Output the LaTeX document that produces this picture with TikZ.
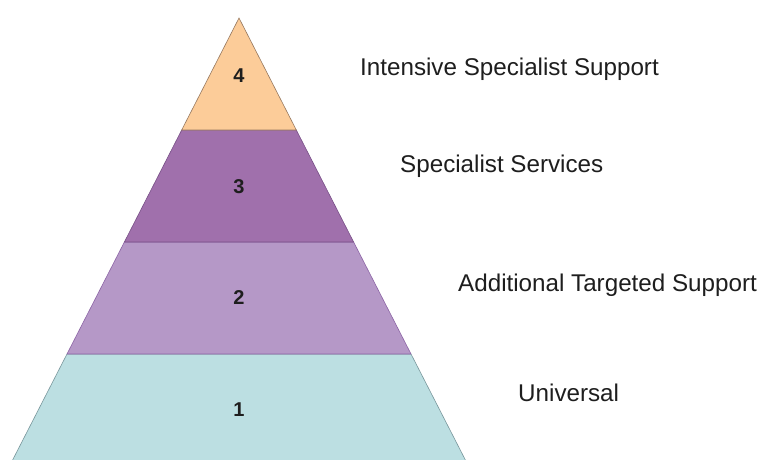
\documentclass[tikz,border=0pt]{standalone}
\usepackage{fontspec}
\setmainfont{Liberation Sans}
\definecolor{tierA}{RGB}{188,223,226}
\definecolor{tierAline}{RGB}{120,150,155}
\definecolor{tierB}{RGB}{181,152,199}
\definecolor{tierBline}{RGB}{140,100,165}
\definecolor{tierC}{RGB}{160,112,172}
\definecolor{tierCline}{RGB}{120,80,135}
\definecolor{tierD}{RGB}{252,204,153}
\definecolor{tierDline}{RGB}{150,120,95}
\definecolor{txt}{RGB}{30,30,30}
\tikzset{
  tier/.style={line width=0.6pt, line join=miter},
  num/.style={font=\fontsize{20}{20}\selectfont\bfseries, text=txt, inner sep=0pt},
  lbl/.style={font=\fontsize{24.2}{24.2}\selectfont, text=txt, anchor=west, inner sep=0pt}
}
\begin{document}
\begin{tikzpicture}[x=1pt,y=-1pt]
\useasboundingbox (0,0) rectangle (761,459);
\fill[white] (0,0) rectangle (761,459);
\begin{scope}
\clip (0,0) rectangle (761,459);
% tier 1
\filldraw[tier, fill=tierA, draw=tierAline] (67.0,354) -- (411.0,354) -- (470.0,469) -- (8.0,469) -- cycle;
% tier 2
\filldraw[tier, fill=tierB, draw=tierBline] (124.4,242) -- (353.6,242) -- (411.0,354) -- (67.0,354) -- cycle;
% tier 3
\filldraw[tier, fill=tierC, draw=tierCline] (181.7,130) -- (296.3,130) -- (353.6,242) -- (124.4,242) -- cycle;
% tier 4
\filldraw[tier, fill=tierD, draw=tierDline] (239,18) -- (296.3,130) -- (181.7,130) -- cycle;
\end{scope}
\node[num] (n4) at (239,76) {4};
\node[num] (n3) at (239,187) {3};
\node[num] (n2) at (239,298) {2};
\node[num] (n1) at (239,410) {1};
\node[lbl] (l4) at (360,69) {Intensive Specialist Support};
\node[lbl] (l3) at (400,166) {Specialist Services};
\node[lbl] (l2) at (458,285) {Additional Targeted Support};
\node[lbl] (l1) at (518,393) {Universal};
\end{tikzpicture}
\end{document}
